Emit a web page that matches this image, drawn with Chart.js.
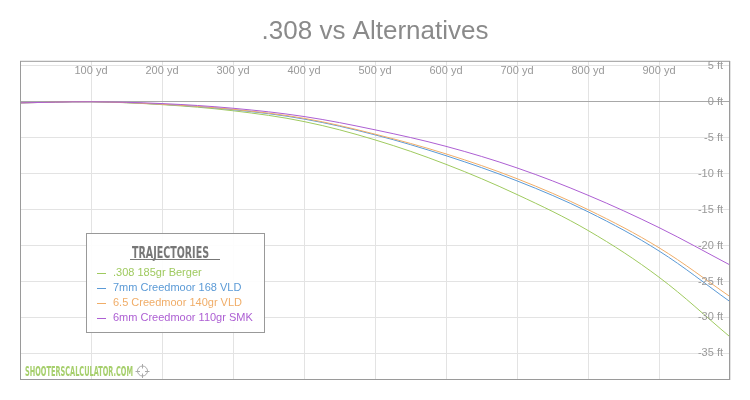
<!DOCTYPE html>
<html>
<head>
<meta charset="utf-8">
<script src="https://cdn.jsdelivr.net/npm/chart.js@4"></script>
<style>
  html, body { margin: 0; padding: 0; background: #fff; }
</style>
</head>
<body>
<canvas id="trajChart" width="750" height="400"></canvas>
<script>
// range in yards
const distances = [0, 100, 200, 300, 400, 500, 600, 700, 800, 900, 1000];

// bullet path relative to line of sight, in feet
const drop308 = [-0.15, 0, -0.4, -1.25, -2.75, -5.3, -8.7, -12.9, -17.9, -24.4, -32.7];
const drop7mm = [-0.15, 0, -0.35, -1.1, -2.4, -4.6, -7.5, -11.0, -15.3, -20.75, -27.8];
const drop65 = [-0.15, 0, -0.35, -1.05, -2.3, -4.5, -7.25, -10.7, -15.0, -20.3, -27.1];
const drop6mm = [-0.15, 0, -0.25, -0.9, -2.05, -3.9, -6.2, -9.2, -13.0, -17.5, -22.7];

const seriesNames = [
  ".308 185gr Berger",
  "7mm Creedmoor 168 VLD",
  "6.5 Creedmoor 140gr VLD",
  "6mm Creedmoor 110gr SMK",
];

const xTickValues = [100, 200, 300, 400, 500, 600, 700, 800, 900];
const yTickValues = [5, 0, -5, -10, -15, -20, -25, -30, -35];

const FONT = "'Liberation Sans', Arial, Helvetica, sans-serif";
const NARROW = "'Liberation Sans Narrow', 'DejaVu Sans Condensed', 'Liberation Sans', sans-serif";

function toPoints(values) {
  return distances.map((d, i) => ({ x: d, y: values[i] }));
}

function makeSet(label, values, color, order) {
  return {
    label,
    data: toPoints(values),
    borderColor: color,
    backgroundColor: color,
    borderWidth: 1,
    pointRadius: 0,
    fill: false,
    tension: 0.35,
    order,
  };
}

// draw text squeezed to a given width (for the condensed headline look)
function fitText(ctx, text, x, y, width) {
  const w = ctx.measureText(text).width;
  ctx.save();
  ctx.translate(x, y);
  ctx.scale(width / w, 1);
  ctx.fillText(text, 0, 0);
  ctx.restore();
}

const decorations = {
  id: "decorations",
  afterDatasetsDraw(chart) {
    const { ctx, chartArea: area, scales } = chart;
    ctx.save();

    // frame
    ctx.strokeStyle = "#9a9a9a";
    ctx.lineWidth = 1;
    ctx.strokeRect(area.left + 0.5, area.top + 0.5, area.width - 1, area.height - 1);

    // x tick labels along the top, inside
    ctx.font = "11px " + FONT;
    ctx.fillStyle = "#999";
    ctx.textAlign = "center";
    ctx.textBaseline = "middle";
    xTickValues.forEach((v) => {
      ctx.fillText(v + " yd", scales.x.getPixelForValue(v), area.top + 10);
    });

    // y tick labels on the right, inside
    ctx.textAlign = "right";
    yTickValues.forEach((v) => {
      ctx.fillText(v + " ft", area.right - 7, scales.y.getPixelForValue(v));
    });

    // legend box
    const bx = 86.5, by = 233.5, bw = 178, bh = 99;
    ctx.fillStyle = "rgba(255,255,255,0.92)";
    ctx.fillRect(bx, by, bw, bh);
    ctx.strokeStyle = "#999";
    ctx.strokeRect(bx, by, bw, bh);

    ctx.fillStyle = "#777";
    ctx.textAlign = "left";
    ctx.textBaseline = "alphabetic";
    ctx.font = "bold 15px " + NARROW;
    fitText(ctx, "TRAJECTORIES", 132, 257.5, 77);
    ctx.strokeStyle = "#777";
    ctx.beginPath();
    ctx.moveTo(130, 259.5);
    ctx.lineTo(220, 259.5);
    ctx.stroke();

    ctx.font = "11px " + FONT;
    ctx.textBaseline = "middle";
    chart.data.datasets.forEach((ds, i) => {
      const y = 273 + i * 15;
      ctx.strokeStyle = ds.borderColor;
      ctx.beginPath();
      ctx.moveTo(97, Math.round(y) + 0.5);
      ctx.lineTo(106, Math.round(y) + 0.5);
      ctx.stroke();
      ctx.fillStyle = ds.borderColor;
      ctx.fillText(ds.label, 113, y);
    });

    // watermark
    ctx.fillStyle = "#a6cf6c";
    ctx.textBaseline = "alphabetic";
    ctx.font = "bold 14px " + NARROW;
    fitText(ctx, "SHOOTERSCALCULATOR.COM", 25, 375.5, 108);

    ctx.strokeStyle = "#aaa";
    ctx.lineWidth = 1;
    ctx.beginPath();
    ctx.arc(142.5, 371, 5, 0, Math.PI * 2);
    ctx.moveTo(135.5, 371.5); ctx.lineTo(140, 371.5);
    ctx.moveTo(145, 371.5); ctx.lineTo(149.5, 371.5);
    ctx.moveTo(142.5, 364); ctx.lineTo(142.5, 368.5);
    ctx.moveTo(142.5, 373.5); ctx.lineTo(142.5, 378);
    ctx.stroke();

    ctx.restore();
  },
};

function createTrajectoryChart() {
  const canvas = document.getElementById("trajChart");
  const ctx = canvas.getContext("2d");

  new Chart(ctx, {
    type: "line",
    data: {
      datasets: [
        makeSet(seriesNames[0], drop308, "#9fca5f", 3),
        makeSet(seriesNames[1], drop7mm, "#5b9ad6", 2),
        makeSet(seriesNames[2], drop65, "#f0ad68", 1),
        makeSet(seriesNames[3], drop6mm, "#ad5fd3", 0),
      ],
    },
    options: {
      responsive: false,
      animation: false,
      layout: { padding: { left: 20, right: 20, bottom: 20, top: 0 } },
      plugins: {
        legend: { display: false },
        tooltip: { enabled: false },
        title: {
          display: true,
          text: ".308 vs Alternatives",
          color: "#8a8a8a",
          font: { family: FONT, size: 26, weight: "normal" },
          padding: { top: 16, bottom: 13.6 },
        },
      },
      scales: {
        x: {
          type: "linear",
          position: "top",
          min: 0,
          max: 1000,
          afterBuildTicks: (scale) => {
            scale.ticks = [0].concat(xTickValues, [1000]).map((v) => ({ value: v }));
          },
          ticks: { display: false },
          border: { display: false },
          grid: { color: "#e3e3e3", lineWidth: 1, drawTicks: false },
        },
        y: {
          type: "linear",
          position: "right",
          min: -38.7,
          max: 5.7,
          afterBuildTicks: (scale) => {
            scale.ticks = yTickValues.map((v) => ({ value: v }));
          },
          ticks: { display: false },
          border: { display: false },
          grid: {
            drawTicks: false,
            lineWidth: 1,
            color: (c) => (c.tick && c.tick.value === 0 ? "#a8a8a8" : "#e3e3e3"),
          },
        },
      },
    },
    plugins: [decorations],
  });
}

document.addEventListener("DOMContentLoaded", createTrajectoryChart);
</script>
</body>
</html>
